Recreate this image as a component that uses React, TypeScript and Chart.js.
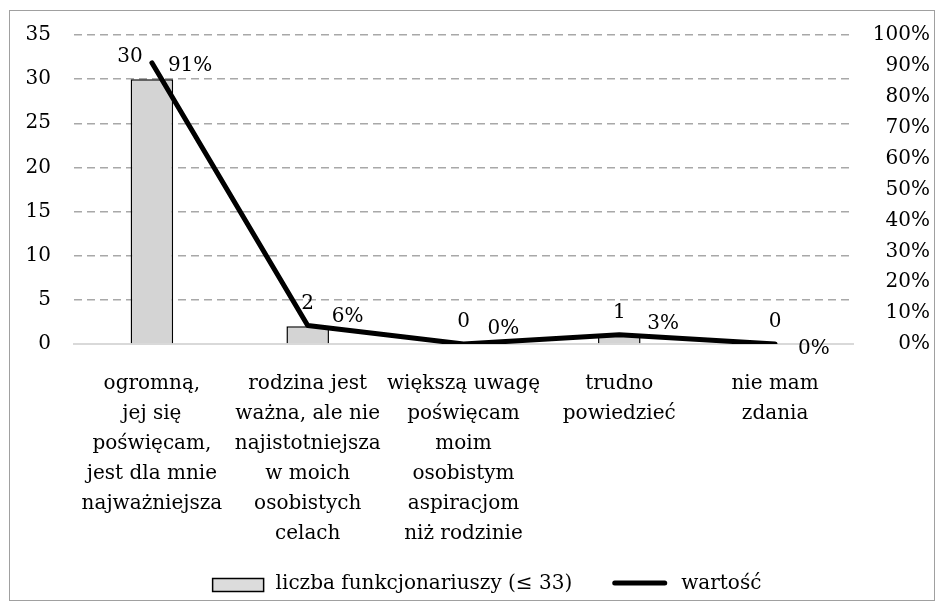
import { useEffect, useRef } from "react";
import { Chart, registerables } from "chart.js";

Chart.register(...registerables);

const FONT = "'DejaVu Serif', serif";
const FS = 20;

const categories: string[][] = [
  ["ogromną,", "jej się", "poświęcam,", "jest dla mnie", "najważniejsza"],
  ["rodzina jest", "ważna, ale nie", "najistotniejsza", "w moich", "osobistych", "celach"],
  ["większą uwagę", "poświęcam", "moim", "osobistym", "aspiracjom", "niż rodzinie"],
  ["trudno", "powiedzieć"],
  ["nie mam", "zdania"],
];
const counts = [30, 2, 0, 1, 0];
const percents = [91, 6, 0, 3, 0];
const seriesNames = ["liczba funkcjonariuszy (≤ 33)", "wartość"];

// label placement tweaks (style, not data)
const barLabelDx = [-22, 0, 0, 0, 0];
const pctLabelDx = [16, 24, 24, 28, 23];
const pctLabelDy = [8, -3.5, -10, -5.7, 10];

const BAR_FILL = "#d4d4d4";

const labelPlugin = {
  id: "valueLabels",
  afterDatasetsDraw(chart: any) {
    const ctx = chart.ctx;
    ctx.save();
    ctx.font = `${FS}px ${FONT}`;
    ctx.fillStyle = "#000";
    ctx.textBaseline = "alphabetic";
    const barMeta = chart.getDatasetMeta(0);
    barMeta.data.forEach((el: any, i: number) => {
      ctx.textAlign = "center";
      ctx.fillText(String(counts[i]), el.x + barLabelDx[i], el.y - 17);
    });
    const lineMeta = chart.getDatasetMeta(1);
    lineMeta.data.forEach((el: any, i: number) => {
      ctx.textAlign = "left";
      ctx.fillText(percents[i] + "%", el.x + pctLabelDx[i], el.y + pctLabelDy[i]);
    });
    ctx.restore();
  },
};

const legendPlugin = {
  id: "customLegend",
  afterDraw(chart: any) {
    const ctx = chart.ctx;
    ctx.save();
    ctx.font = `${FS}px ${FONT}`;
    const boxW = 51;
    const boxH = 13;
    const lineW = 55;
    const gapText = 12;
    const gapLineText = 14;
    const gapItems = 40;
    const w0 = ctx.measureText(seriesNames[0]).width;
    const w1 = ctx.measureText(seriesNames[1]).width;
    const total = boxW + gapText + w0 + gapItems + lineW + gapLineText + w1;
    const cx = (chart.width + 30) / 2;
    const cy = chart.height - 15;
    let x = cx - total / 2;
    ctx.fillStyle = "#dcdcdc";
    ctx.fillRect(x, cy - boxH / 2, boxW, boxH);
    ctx.strokeStyle = "#000";
    ctx.lineWidth = 1.5;
    ctx.strokeRect(x, cy - boxH / 2, boxW, boxH);
    x += boxW + gapText;
    ctx.fillStyle = "#000";
    ctx.textBaseline = "middle";
    ctx.textAlign = "left";
    ctx.fillText(seriesNames[0], x, cy - 1);
    x += w0 + gapItems;
    ctx.lineWidth = 5;
    ctx.lineCap = "round";
    ctx.beginPath();
    ctx.moveTo(x + 2.5, cy - 2);
    ctx.lineTo(x + lineW - 2.5, cy - 2);
    ctx.stroke();
    x += lineW + gapLineText;
    ctx.fillText(seriesNames[1], x, cy - 1);
    ctx.restore();
  },
};

export default function App() {
  const ref = useRef<HTMLCanvasElement>(null);
  useEffect(() => {
    if (!ref.current) return;
    Chart.defaults.font.family = FONT;
    Chart.defaults.color = "#000";
    const chart = new Chart(ref.current, {
      type: "bar",
      data: {
        labels: categories,
        datasets: [
          {
            type: "bar",
            label: seriesNames[0],
            data: counts,
            backgroundColor: BAR_FILL,
            borderColor: "#000",
            borderWidth: 1.5,
            barPercentage: 0.273,
            categoryPercentage: 1,
            yAxisID: "y",
            order: 1,
          } as any,
          {
            type: "line",
            label: seriesNames[1],
            data: percents,
            borderColor: "#000",
            backgroundColor: "#000",
            borderWidth: 5,
            borderCapStyle: "round",
            borderJoinStyle: "round",
            pointRadius: 0,
            pointHoverRadius: 0,
            tension: 0,
            yAxisID: "y1",
            order: 0,
          } as any,
        ],
      },
      options: {
        responsive: false,
        animation: false,
        layout: { padding: { left: 0, right: 4, top: 24, bottom: 0 } },
        plugins: {
          tooltip: { enabled: false },
          legend: { display: false },
        },
        scales: {
          x: {
            grid: { display: false },
            border: { display: true, color: "#d9d9d9", width: 2 },
            ticks: {
              autoSkip: false,
              maxRotation: 0,
              minRotation: 0,
              padding: 17,
              color: "#000",
              font: { size: FS, family: FONT, lineHeight: "30px" },
            },
            afterFit: (s: any) => {
              s.height = 256;
            },
          },
          y: {
            position: "left",
            min: 0,
            max: 35,
            ticks: { stepSize: 5, padding: 0, color: "#000", font: { size: FS, family: FONT } },
            grid: {
              drawTicks: true,
              tickLength: 23,
              tickColor: "rgba(0,0,0,0)",
              lineWidth: 1.5,
              color: (c: any) => (c.tick && c.tick.value === 0 ? "rgba(0,0,0,0)" : "#a8a8a8"),
            },
            border: { display: false, dash: [8, 5] },
            afterFit: (s: any) => {
              s.width = 64;
            },
          },
          y1: {
            position: "right",
            min: 0,
            max: 100,
            ticks: {
              stepSize: 10,
              crossAlign: "far",
              padding: 0,
              color: "#000",
              font: { size: FS, family: FONT },
              callback: (v: any) => v + "%",
            },
            grid: { display: false, drawTicks: false },
            border: { display: false },
            afterFit: (s: any) => {
              s.width = 77;
            },
          },
        },
      } as any,
      plugins: [labelPlugin, legendPlugin],
    });
    return () => chart.destroy();
  }, []);

  return (
    <div
      style={{
        position: "absolute",
        left: 9,
        top: 10,
        width: 926,
        height: 591,
        border: "1px solid #a0a0a0",
        boxSizing: "border-box",
        background: "#fff",
      }}
    >
      <canvas ref={ref} width={924} height={589} style={{ display: "block", width: 924, height: 589 }} />
    </div>
  );
}
